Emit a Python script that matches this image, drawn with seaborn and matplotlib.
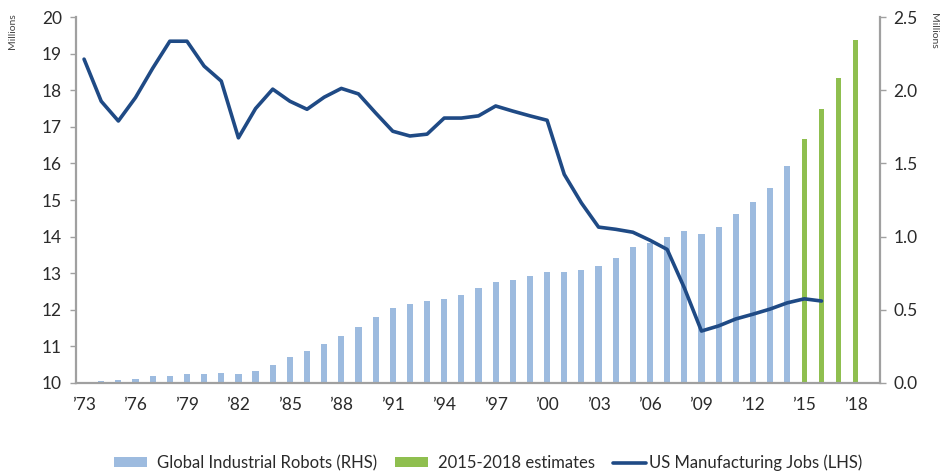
import matplotlib
matplotlib.use("Agg")
import matplotlib.pyplot as plt
from matplotlib.patches import Patch
from matplotlib.lines import Line2D
import numpy as np
import pandas as pd
import seaborn as sns

# Global industrial robots in operation (millions, right axis)
robot_years = list(range(1973, 2015))
robot_values = [0.01, 0.015, 0.02, 0.03, 0.045, 0.05, 0.06, 0.06, 0.065, 0.06,
                0.085, 0.12, 0.175, 0.22, 0.265, 0.32, 0.38, 0.45, 0.51, 0.54,
                0.56, 0.575, 0.60, 0.65, 0.69, 0.705, 0.73, 0.755, 0.755, 0.775,
                0.80, 0.855, 0.93, 0.955, 0.995, 1.04, 1.02, 1.065, 1.155, 1.235,
                1.335, 1.48]

# 2015-2018 estimates (millions, right axis)
estimate_years = [2015, 2016, 2017, 2018]
estimate_values = [1.67, 1.87, 2.085, 2.34]

# US manufacturing jobs (millions, left axis)
job_years = list(range(1973, 2017))
job_values = [18.85, 17.7, 17.16, 17.8, 18.6, 19.34, 19.34, 18.66, 18.25, 16.7,
              17.5, 18.03, 17.7, 17.48, 17.81, 18.05, 17.9, 17.38, 16.88, 16.75,
              16.8, 17.24, 17.24, 17.3, 17.57, 17.43, 17.3, 17.18, 15.7, 14.92,
              14.26, 14.2, 14.12, 13.9, 13.65, 12.6, 11.42, 11.56, 11.75, 11.88,
              12.02, 12.19, 12.3, 12.24]

tick_years = list(range(1973, 2019, 3))
tick_labels = ["\u2019" + str(y)[2:] for y in tick_years]

BLUE_BAR = "#9dbbdf"
GREEN_BAR = "#8fbf4f"
NAVY = "#1f4a85"
AXIS_GREY = "#a0a0a0"
TEXT = "#2a2a2a"

sns.set_theme(style="white")
plt.rcParams["font.family"] = ["Lato", "DejaVu Sans"]

fig = plt.figure(figsize=(9.43, 4.74), dpi=100)
ax = fig.add_axes([0.0806, 0.192, 0.8524, 0.772])
ax2 = ax.twinx()

actual = pd.DataFrame({"year": robot_years, "robots": robot_values})
estimate = pd.DataFrame({"year": estimate_years, "robots": estimate_values})
sns.barplot(data=actual, x="year", y="robots", native_scale=True, color=BLUE_BAR,
            saturation=1, width=0.36, linewidth=0, ax=ax2)
sns.barplot(data=estimate, x="year", y="robots", native_scale=True, color=GREEN_BAR,
            saturation=1, width=0.3, linewidth=0, ax=ax2)

jobs = pd.DataFrame({"year": job_years, "jobs": job_values})
sns.lineplot(data=jobs, x="year", y="jobs", color=NAVY, linewidth=2.6, ax=ax)

# keep the jobs line above the bars
ax.set_zorder(ax2.get_zorder() + 1)
ax.patch.set_visible(False)

ax.set_xlim(1972.53, 2019.4)
ax.set_ylim(10, 20)
ax2.set_ylim(0, 2.5)
ax.set_yticks(range(10, 21))
ax2.set_yticks(np.arange(0, 2.51, 0.5))
ax2.set_yticklabels([f"{v:.1f}" for v in np.arange(0, 2.51, 0.5)])
ax.set_xticks(tick_years)
ax.set_xticklabels(tick_labels)

for a in (ax, ax2):
    a.set_xlabel("")
    a.set_ylabel("")
    for s in a.spines.values():
        s.set_visible(False)

ax.spines["left"].set_visible(True)
ax.spines["bottom"].set_visible(True)
ax2.spines["right"].set_visible(True)
for s in (ax.spines["left"], ax.spines["bottom"], ax2.spines["right"]):
    s.set_color(AXIS_GREY)
    s.set_linewidth(1.6)

ax.tick_params(axis="y", left=True, length=4, width=1, color=AXIS_GREY,
               labelsize=12.5, labelcolor=TEXT, pad=6)
ax2.tick_params(axis="y", right=True, length=4, width=1, color=AXIS_GREY,
                labelsize=12.5, labelcolor=TEXT, pad=6)
ax.tick_params(axis="x", bottom=False, labelsize=12.5, labelcolor=TEXT, pad=4)

fig.text(0.013, 0.935, "Millions", rotation=90, fontsize=7.5, color="#444444",
         ha="center", va="center")
fig.text(0.99, 0.935, "Millions", rotation=270, fontsize=7.5, color="#444444",
         ha="center", va="center")

# legend entries placed individually along the bottom
entries = [
    (Patch(facecolor=BLUE_BAR, edgecolor="none"), "Global Industrial Robots (RHS)", 114, 0.6),
    (Patch(facecolor=GREEN_BAR, edgecolor="none"), "2015-2018 estimates", 395, 0.55),
    (Line2D([0], [0], color=NAVY, linewidth=2.6), "US Manufacturing Jobs (LHS)", 613, 0.15),
]
for handle, label, x_px, pad in entries:
    leg = fig.legend([handle], [label], loc="center left",
                     bbox_to_anchor=(x_px / 943, 1 - 463 / 474), frameon=False,
                     fontsize=12, handlelength=2.0, handleheight=0.6,
                     handletextpad=pad, borderpad=0, borderaxespad=0,
                     labelcolor=TEXT)

fig.savefig("out.png", dpi=100)
